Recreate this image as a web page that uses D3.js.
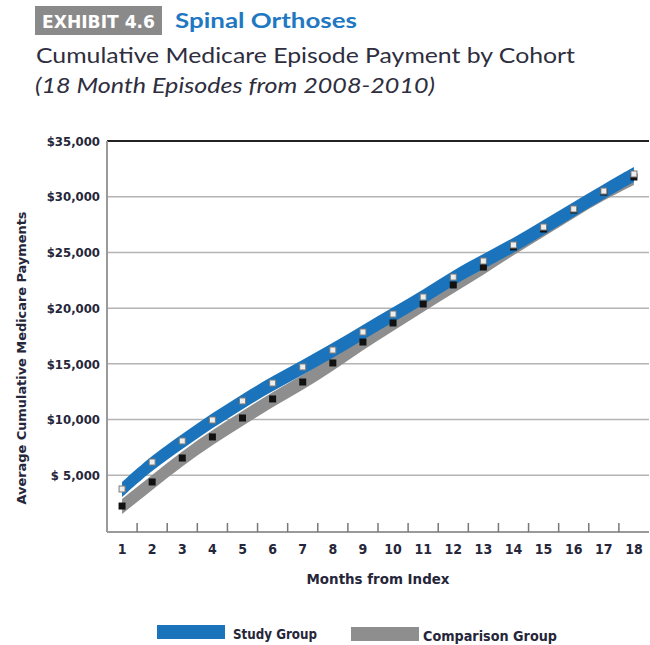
<!DOCTYPE html>
<head>
<meta charset="utf-8">
<script src="https://d3js.org/d3.v7.min.js"></script>
<style>
body { margin: 0; background: #fff; }
.cond { font-family: "Liberation Sans Narrow", "DejaVu Sans Condensed", "Arial Narrow", sans-serif; font-weight: bold; }
</style>
</head>
<body>
<script>

var months = [1, 2, 3, 4, 5, 6, 7, 8, 9, 10, 11, 12, 13, 14, 15, 16, 17, 18];
var studyGroup = [3770, 6190, 8080, 9960, 11670, 13280, 14720, 16240, 17860, 19470, 21000, 22790, 24230, 25670, 27280, 28900, 30510, 32040];
var comparisonGroup = [2240, 4400, 6550, 8440, 10140, 11850, 13370, 15080, 16960, 18670, 20370, 22080, 23690, 25490, 27100, 28810, 30420, 31770];
var yTicks = [5000, 10000, 15000, 20000, 25000, 30000, 35000];
var yTickLabels = ["$ 5,000", "$10,000", "$15,000", "$20,000", "$25,000", "$30,000", "$35,000"];

var width = 650, height = 645;
// plot box (note: "top" is reserved on window, so use plot* names)
var plotLeft = 107, plotRight = 649, plotTop = 141, plotBottom = 531;

var svg = d3.select("body").append("svg")
	.attr("width", width)
	.attr("height", height);

// Header
svg.append("rect")
	.attr("x", 35).attr("y", 6).attr("width", 127).attr("height", 29)
	.attr("fill", "#8a8a8a");
svg.append("text")
	.attr("class", "cond")
	.attr("x", 42).attr("y", 28)
	.attr("fill", "#fff")
	.style("font-size", "18px")
	.attr("textLength", 113).attr("lengthAdjust", "spacingAndGlyphs")
	.text("EXHIBIT 4.6");
svg.append("text")
	.attr("x", 175).attr("y", 28)
	.attr("fill", "#1f78c1")
	.style("font-family", "Lato, 'Open Sans', sans-serif")
	.style("font-weight", "bold")
	.style("font-size", "21px")
	.attr("textLength", 182).attr("lengthAdjust", "spacingAndGlyphs")
	.text("Spinal Orthoses");
svg.append("text")
	.attr("x", 36).attr("y", 63)
	.attr("fill", "#2e2e3e")
	.style("font-family", "Lato, 'Open Sans', sans-serif")
	.style("font-size", "21px")
	.attr("textLength", 539).attr("lengthAdjust", "spacingAndGlyphs")
	.text("Cumulative Medicare Episode Payment by Cohort");
svg.append("text")
	.attr("x", 35).attr("y", 93)
	.attr("fill", "#2e2e3e")
	.style("font-family", "Lato, 'Open Sans', sans-serif")
	.style("font-style", "italic")
	.style("font-size", "21px")
	.attr("textLength", 400).attr("lengthAdjust", "spacingAndGlyphs")
	.text("(18 Month Episodes from 2008-2010)");

// Scales
var x = d3.scaleBand().domain(months).range([plotLeft, plotRight]);
var y = d3.scaleLinear().domain([0, 35000]).range([plotBottom, plotTop]);

// Gridlines
svg.append("g")
	.selectAll("line")
	.data(yTicks)
	.enter().append("line")
	.attr("x1", plotLeft).attr("x2", plotRight)
	.attr("y1", function (d) { return y(d); })
	.attr("y2", function (d) { return y(d); })
	.attr("stroke", function (d) { return d === 35000 ? "#222" : "#b4b4b4"; })
	.attr("stroke-width", function (d) { return d === 35000 ? 2 : 1.5; });

// Axes lines
svg.append("line")
	.attr("x1", plotLeft).attr("x2", plotLeft).attr("y1", y(35000)).attr("y2", plotBottom + 1)
	.attr("stroke", "#9a9a9a").attr("stroke-width", 2);
svg.append("line")
	.attr("x1", plotLeft).attr("x2", plotRight).attr("y1", plotBottom + 1).attr("y2", plotBottom + 1)
	.attr("stroke", "#9a9a9a").attr("stroke-width", 2);

// Y axis labels
var yAxis = svg.append("g")
	.attr("transform", "translate(" + (plotLeft - 7) + ",0)")
	.call(d3.axisLeft(y).tickValues(yTicks).tickSize(0)
		.tickFormat(function (d, i) { return yTickLabels[i]; }));
yAxis.select(".domain").remove();
yAxis.selectAll("text")
	.attr("class", "cond")
	.attr("fill", "#26263a")
	.style("font-size", "13px")
	.attr("x", 0);

// X axis labels and ticks (ticks sit between the months)
var xAxis = svg.append("g")
	.attr("transform", "translate(0," + (plotBottom + 1) + ")")
	.call(d3.axisBottom(x).tickSize(0).tickPadding(12));
xAxis.select(".domain").remove();
xAxis.selectAll("text")
	.attr("class", "cond")
	.attr("fill", "#26263a")
	.style("font-size", "14px");

svg.append("g")
	.selectAll("line")
	.data(months.slice(1))
	.enter().append("line")
	.attr("x1", function (d) { return x(d); })
	.attr("x2", function (d) { return x(d); })
	.attr("y1", plotBottom + 1).attr("y2", plotBottom - 8)
	.attr("stroke", "#777").attr("stroke-width", 1.5);

// Axis titles
svg.append("text")
	.attr("class", "cond")
	.attr("transform", "translate(26,358) rotate(-90)")
	.attr("text-anchor", "middle")
	.attr("fill", "#26263a")
	.style("font-size", "13px")
	.attr("textLength", 293).attr("lengthAdjust", "spacingAndGlyphs")
	.text("Average Cumulative Medicare Payments");
svg.append("text")
	.attr("class", "cond")
	.attr("x", 378).attr("y", 584)
	.attr("text-anchor", "middle")
	.attr("fill", "#26263a")
	.style("font-size", "14px")
	.attr("textLength", 143).attr("lengthAdjust", "spacingAndGlyphs")
	.text("Months from Index");

// Bands (smoothed, markers show the monthly values)
function cx(i) { return x(months[i]) + x.bandwidth() / 2; }

var band = function (values) {
	return d3.area()
		.curve(d3.curveBasis)
		.x(function (d, i) { return cx(i); })
		.y0(function (d) { return y(d) + 8; })
		.y1(function (d) { return y(d) - 7; })(values);
};

svg.append("path")
	.attr("d", band(comparisonGroup))
	.attr("fill", "#8e8e8e");
svg.append("path")
	.attr("d", band(studyGroup))
	.attr("fill", "#1b74bb");

// Markers
svg.append("g")
	.selectAll("rect")
	.data(comparisonGroup)
	.enter().append("rect")
	.attr("x", function (d, i) { return cx(i) - 3.5; })
	.attr("y", function (d) { return y(d) - 3.5; })
	.attr("width", 7).attr("height", 7)
	.attr("fill", "#111");
svg.append("g")
	.selectAll("rect")
	.data(studyGroup)
	.enter().append("rect")
	.attr("x", function (d, i) { return cx(i) - 3; })
	.attr("y", function (d) { return y(d) - 3; })
	.attr("width", 6).attr("height", 6)
	.attr("fill", "#eeeeee")
	.attr("stroke", "#7a7a7a").attr("stroke-width", 1);

// Legend
svg.append("rect")
	.attr("x", 157).attr("y", 625).attr("width", 68).attr("height", 14)
	.attr("fill", "#1b74bb");
svg.append("text")
	.attr("class", "cond")
	.attr("x", 233).attr("y", 639)
	.attr("fill", "#26263a")
	.style("font-size", "14px")
	.attr("textLength", 84).attr("lengthAdjust", "spacingAndGlyphs")
	.text("Study Group");
svg.append("rect")
	.attr("x", 351).attr("y", 627).attr("width", 68).attr("height", 14)
	.attr("fill", "#8e8e8e");
svg.append("text")
	.attr("class", "cond")
	.attr("x", 423).attr("y", 641)
	.attr("fill", "#26263a")
	.style("font-size", "14px")
	.attr("textLength", 134).attr("lengthAdjust", "spacingAndGlyphs")
	.text("Comparison Group");

</script>
</body>
</html>
